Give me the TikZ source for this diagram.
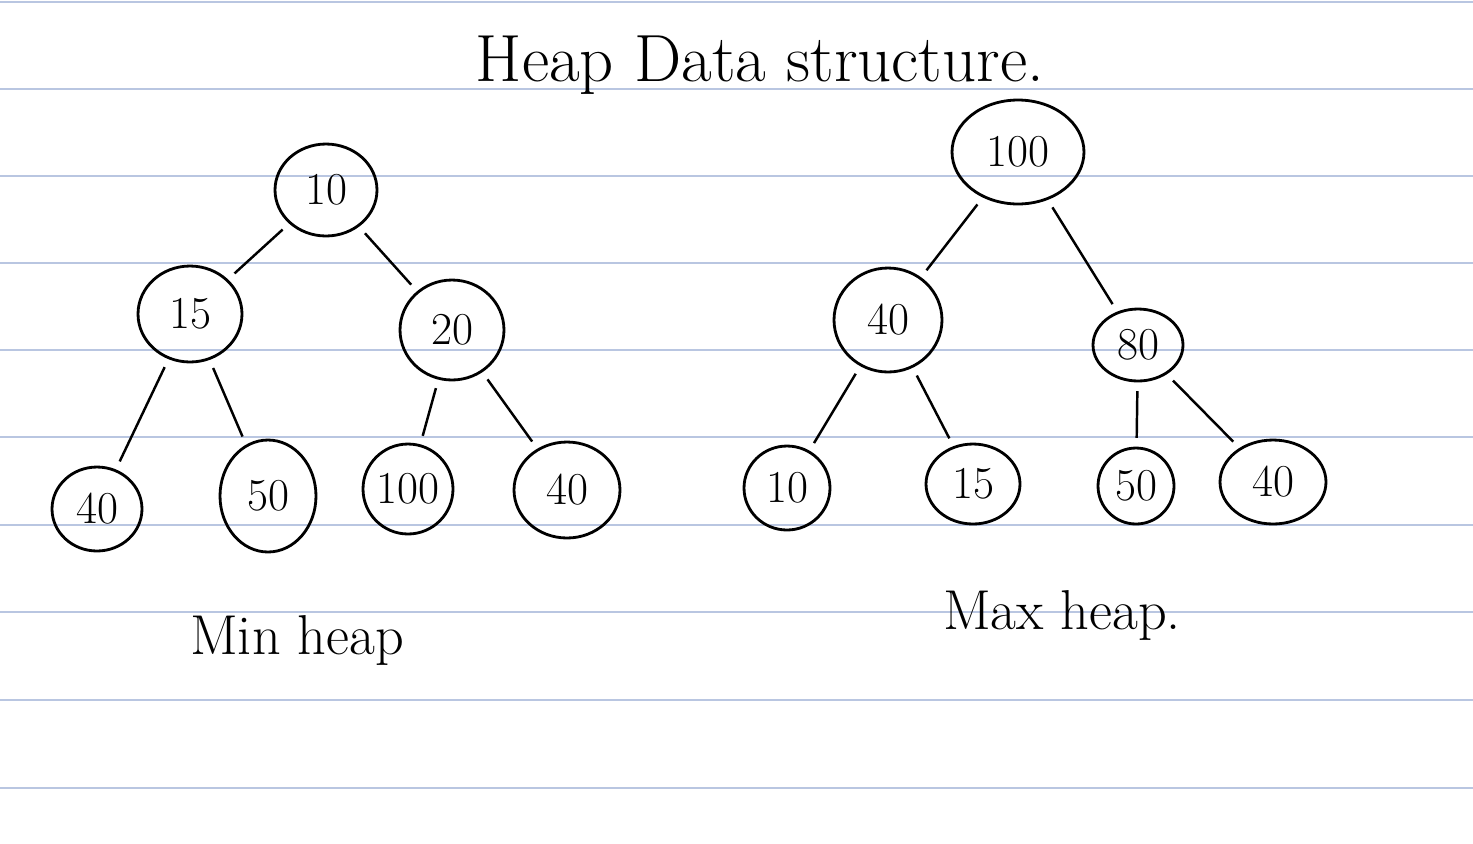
\documentclass[tikz,border=0pt]{standalone}
\usetikzlibrary{shapes.geometric}
\definecolor{ruled}{RGB}{185,198,225}
\tikzset{
  px/.style={x=0.02cm,y=-0.02cm},
  hnode/.style={ellipse,draw,line width=1.6pt,inner sep=0pt,font=\fontsize{26}{28}\selectfont},
  hedge/.style={line width=1.4pt,shorten >=5pt,shorten <=5pt},
  rule/.style={draw=ruled,line width=0.8pt}
}
\begin{document}
\begin{tikzpicture}[px]
\useasboundingbox (0,0) rectangle (1473,843);
\fill[white] (0,0) rectangle (1473,843);
\foreach \y in {2,89,176,263,350,437,525,612,700,788}
  \draw[rule] (0,\y) -- (1473,\y);

\node (title) at (760,65) {\fontsize{38}{42}\selectfont Heap Data structure.};

% Min heap
\node[hnode,minimum width=2.04cm,minimum height=1.84cm] (m10) at (326,190) {10};
\node[hnode,minimum width=2.08cm,minimum height=1.92cm] (m15) at (190,314) {15};
\node[hnode,minimum width=2.08cm,minimum height=2.0cm] (m20) at (452,330) {20};
\node[hnode,minimum width=1.8cm,minimum height=1.68cm] (m40a) at (97,509) {40};
\node[hnode,minimum width=1.92cm,minimum height=2.24cm] (m50) at (268,496) {50};
\node[hnode,minimum width=1.8cm,minimum height=1.8cm] (m100) at (408,489) {100};
\node[hnode,minimum width=2.12cm,minimum height=1.92cm] (m40b) at (567,490) {40};
\draw[hedge] (m10) -- (m15);
\draw[hedge] (m10) -- (m20);
\draw[hedge] (m15) -- (m40a);
\draw[hedge] (m15) -- (m50);
\draw[hedge] (m20) -- (m100);
\draw[hedge] (m20) -- (m40b);
\node (minlabel) at (297,640) {\fontsize{32}{36}\selectfont Min heap};

% Max heap
\node[hnode,minimum width=2.64cm,minimum height=2.08cm] (x100) at (1018,152) {100};
\node[hnode,minimum width=2.16cm,minimum height=2.08cm] (x40) at (888,320) {40};
\node[hnode,minimum width=1.8cm,minimum height=1.44cm] (x80) at (1138,345) {80};
\node[hnode,minimum width=1.72cm,minimum height=1.68cm] (x10) at (787,488) {10};
\node[hnode,minimum width=1.88cm,minimum height=1.6cm] (x15) at (973,484) {15};
\node[hnode,minimum width=1.52cm,minimum height=1.52cm] (x50) at (1136,486) {50};
\node[hnode,minimum width=2.12cm,minimum height=1.68cm] (x40b) at (1273,482) {40};
\draw[hedge] (x100) -- (x40);
\draw[hedge] (x100) -- (x80);
\draw[hedge] (x40) -- (x10);
\draw[hedge] (x40) -- (x15);
\draw[hedge] (x80) -- (x50);
\draw[hedge] (x80) -- (x40b);
\node (maxlabel) at (1062,615) {\fontsize{32}{36}\selectfont Max heap.};
\end{tikzpicture}
\end{document}
